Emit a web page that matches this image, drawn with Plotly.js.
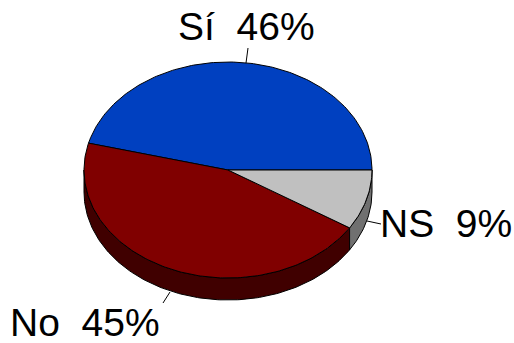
<!DOCTYPE html>
<html><head><meta charset="utf-8">
<script src="https://cdn.plot.ly/plotly-3.0.1.min.js"></script>
<style>html,body{margin:0;padding:0;background:#fff}#c{width:514px;height:343px}</style>
</head><body><div id="c"></div>
<script>
const categories = ['Sí','No','NS'];
const values = [46,45,9];
const topColors = ['#0040C0','#800000','#C0C0C0'];
const sideColors = ['#002060','#400000','#707070'];
const labelText = ['Sí  46%','No  45%','NS  9%'];

const cx=228, cy=170, rx=144, ry=108, depth=22;
const total = values.reduce((a,b)=>a+b,0);
const pt = (deg,dy=0)=>[cx+rx*Math.cos(deg*Math.PI/180), cy-ry*Math.sin(deg*Math.PI/180)+dy];
function arc(a0,a1,dy=0){const out=[];const n=Math.max(2,Math.ceil(Math.abs(a1-a0)));
  for(let i=0;i<=n;i++) out.push(pt(a0+(a1-a0)*i/n,dy)); return out;}
function poly(points,fill){return {type:'scatter',mode:'lines',x:points.map(p=>p[0]),y:points.map(p=>p[1]),
  fill:'toself',fillcolor:fill,line:{color:'#000',width:1},hoverinfo:'skip',showlegend:false};}

const traces=[];
let a=0; const slices=values.map(v=>{const s={a0:a,a1:a+v/total*360};a=s.a1;return s;});
slices.forEach((s,i)=>{
  const lo=Math.max(s.a0,180), hi=Math.min(s.a1,360);
  if(hi>lo){traces.push(poly([...arc(lo,hi,0),...arc(hi,lo,depth),pt(lo,0)],sideColors[i]));}
});
slices.forEach((s,i)=>{
  traces.push(poly([[cx,cy],...arc(s.a0,s.a1),[cx,cy]],topColors[i]));
});
const leaders=[[[248,48],[246,63]],[[170,292],[163,303]],[[367,221],[381,224]]];
leaders.forEach(l=>traces.push({type:'scatter',mode:'lines',x:l.map(p=>p[0]),y:l.map(p=>p[1]),
  line:{color:'#000',width:1},hoverinfo:'skip',showlegend:false}));
const labelPos=[[246,26],[84.5,322],[446,223]];
const annotations=labelText.map((t,i)=>({x:labelPos[i][0],y:labelPos[i][1],text:t,showarrow:false,
  xanchor:'center',yanchor:'middle',font:{family:'Liberation Sans, Arial, sans-serif',size:39,color:'#000'}}));
Plotly.newPlot('c',traces,{width:514,height:343,margin:{l:0,r:0,t:0,b:0},
  paper_bgcolor:'#fff',plot_bgcolor:'#fff',showlegend:false,annotations,
  xaxis:{range:[0,514],visible:false,fixedrange:true},
  yaxis:{range:[343,0],visible:false,fixedrange:true}},{displayModeBar:false,staticPlot:true});
</script></body></html>
